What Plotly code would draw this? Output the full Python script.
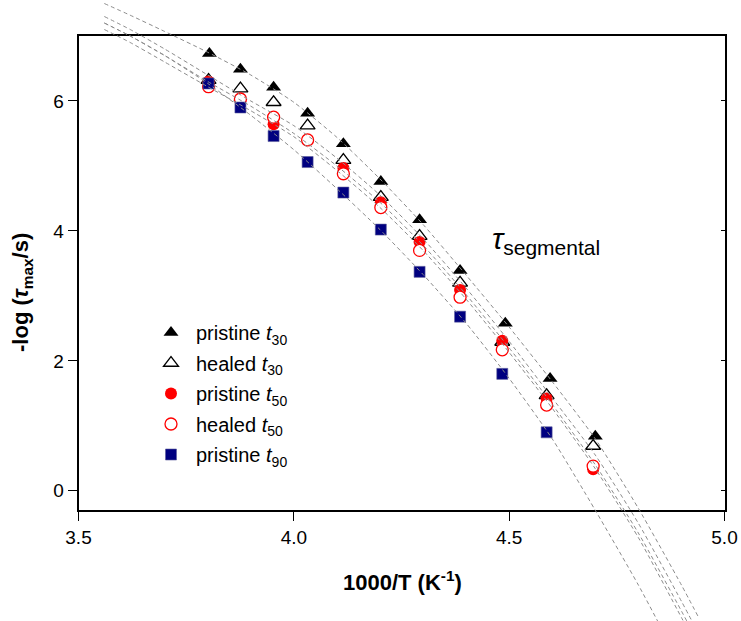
import plotly.graph_objects as go

W, H = 741, 621
# plot area in pixels (left, right, top, bottom)
L, R, T, B = 78.5, 724.5, 36.0, 510.3
XR = [3.5, 5.0]
YR = [-0.3, 7.0]

# ---- data ----
x_all = [3.802, 3.876, 3.953, 4.032, 4.115, 4.202, 4.292, 4.386, 4.484, 4.587, 4.695]
x_p30 = [3.804, 3.876, 3.953, 4.032, 4.115, 4.202, 4.292, 4.386, 4.491, 4.595, 4.70]
y_p30 = [6.73, 6.49, 6.21, 5.81, 5.34, 4.76, 4.17, 3.39, 2.58, 1.73, 0.84]
y_h30 = [6.32, 6.19, 5.98, 5.62, 5.09, 4.52, 3.92, 3.20, 2.29, 1.47, 0.69]
y_p50 = [6.30, 6.02, 5.64, 5.40, 4.97, 4.44, 3.83, 3.09, 2.31, 1.42, 0.33]
y_h50 = [6.22, 6.03, 5.75, 5.40, 4.88, 4.36, 3.70, 2.98, 2.17, 1.32, 0.38]
x_p90 = [3.802, 3.876, 3.953, 4.032, 4.115, 4.202, 4.292, 4.386, 4.484, 4.587]
y_p90 = [6.27, 5.90, 5.46, 5.06, 4.59, 4.02, 3.37, 2.68, 1.80, 0.90]

# fitted dashed curves
fit_x = [3.56, 3.62, 3.70, 3.80, 3.90, 4.00, 4.10, 4.20, 4.30, 4.40, 4.50, 4.60, 4.70, 4.80, 4.90, 4.94]
fit_p30 = [7.50, 7.32, 7.07, 6.75, 6.40, 5.98, 5.44, 4.80, 4.10, 3.32, 2.52, 1.68, 0.80, -0.27, -1.45, -1.95]
fit_h30 = [7.30, 7.10, 6.80, 6.40, 6.00, 5.62, 5.12, 4.55, 3.88, 3.12, 2.30, 1.43, 0.55, -0.50, -1.70, -2.20]
fit_p50 = [7.20, 7.00, 6.70, 6.30, 5.92, 5.50, 5.00, 4.44, 3.78, 3.02, 2.20, 1.33, 0.40, -0.65, -1.85, -2.35]
fit_h50 = [7.10, 6.90, 6.60, 6.22, 5.85, 5.45, 4.93, 4.36, 3.70, 2.95, 2.13, 1.27, 0.34, -0.72, -1.95, -2.45]
fit_p90 = [7.20, 7.00, 6.70, 6.27, 5.78, 5.25, 4.65, 4.02, 3.33, 2.58, 1.73, 0.80, -0.30, -1.45, -2.70, -3.20]

tick_vals_x = [3.5, 4.0, 4.5, 5.0]
tick_vals_y = [0, 2, 4, 6]

FONT = "Arial, Liberation Sans, sans-serif"

fig = go.Figure()

def add_pts(x, y, name, symbol, size, fill, line_color, line_w):
    fig.add_trace(go.Scatter(
        x=x, y=y, mode="markers", name=name, legendgroup=name,
        marker=dict(symbol=symbol, size=size, color=fill,
                    line=dict(color=line_color, width=line_w)),
        xaxis="x", yaxis="y"))

add_pts(x_p30, y_p30, "pristine <i>t</i><sub>30</sub>", "triangle-up", 13, "black", "black", 0)
add_pts(x_all, y_h30, "healed <i>t</i><sub>30</sub>", "triangle-up", 13, "white", "black", 1.3)
add_pts(x_all, y_p50, "pristine <i>t</i><sub>50</sub>", "circle", 12, "#ff0000", "#ff0000", 0)
add_pts(x_all, y_h50, "healed <i>t</i><sub>50</sub>", "circle", 12, "white", "#ff0000", 1.3)
add_pts(x_p90, y_p90, "pristine <i>t</i><sub>90</sub>", "square", 11, "#000080", "#5a5a9a", 0.6)

for fy in [fit_p30, fit_h30, fit_p50, fit_h50, fit_p90]:
    fig.add_trace(go.Scatter(
        x=fit_x, y=fy, mode="lines", showlegend=False, hoverinfo="skip",
        line=dict(color="#8c8c8c", width=1, dash="4px,3px", shape="spline", smoothing=0.6),
        xaxis="x2", yaxis="y2"))

ux = (XR[1] - XR[0]) / (R - L)
uy = (YR[1] - YR[0]) / (B - T)
x2r = [XR[0] - L * ux, XR[1] + (W - R) * ux]
y2r = [YR[0] - (H - B) * uy, YR[1] + T * uy]

axis_common = dict(showline=True, linecolor="black", linewidth=1.5, mirror=True,
                   ticks="outside", ticklen=9, tickwidth=1.3, tickcolor="black",
                   showgrid=False, zeroline=False, automargin=False,
                   tickfont=dict(family=FONT, size=19, color="black"))

fig.update_layout(
    template="none",
    width=W, height=H,
    margin=dict(l=0, r=0, t=0, b=0, autoexpand=False),
    paper_bgcolor="white", plot_bgcolor="rgba(0,0,0,0)",
    xaxis=dict(domain=[L / W, R / W], range=XR, tickvals=tick_vals_x,
               ticktext=[f"{v:.1f}" for v in tick_vals_x], anchor="y", **axis_common),
    yaxis=dict(domain=[(H - B) / H, (H - T) / H], range=YR, tickvals=tick_vals_y,
               anchor="x", **axis_common),
    yaxis3=dict(overlaying="y", side="right", anchor="x", range=YR, tickvals=tick_vals_y,
                ticks="inside", ticklen=4, tickwidth=1.3, tickcolor="black",
                showticklabels=False, showline=False, showgrid=False, zeroline=False,
                automargin=False, fixedrange=True),
    xaxis2=dict(domain=[0, 1], range=x2r, visible=False, anchor="y2", fixedrange=True,
                automargin=False),
    yaxis2=dict(domain=[0, 1], range=y2r, visible=False, anchor="x2", fixedrange=True,
                automargin=False),
    legend=dict(x=146 / W, y=(H - 313) / H, xanchor="left", yanchor="top",
                bgcolor="rgba(0,0,0,0)", font=dict(family=FONT, size=20, color="black"),
                tracegroupgap=1.5, itemwidth=40),
    font=dict(family=FONT, color="black"),
    annotations=[
        dict(text="<i>τ</i><sub>segmental</sub>", x=490 / W, y=(H - 240) / H,
             xref="paper", yref="paper", xanchor="left", yanchor="middle",
             showarrow=False, font=dict(family=FONT, size=30, color="black")),
        dict(text="<b>-log (<i>τ</i><sub>max</sub>/s)</b>", x=22 / W, y=(H - 293) / H,
             xref="paper", yref="paper", xanchor="center", yanchor="middle",
             textangle=-90, showarrow=False, font=dict(family=FONT, size=22, color="black")),
        dict(text="<b>1000/T (K<sup>-1</sup>)</b>", x=402 / W, y=(H - 581) / H,
             xref="paper", yref="paper", xanchor="center", yanchor="middle",
             showarrow=False, font=dict(family=FONT, size=22, color="black")),
    ],
)

# dummy trace on the right-hand tick axis so it is drawn
fig.add_trace(go.Scatter(x=[None], y=[None], xaxis="x", yaxis="y3", showlegend=False,
                         hoverinfo="skip"))

fig.write_html("out.html", config={"displayModeBar": False},
               post_script="document.body.style.margin='0';document.body.style.overflow='hidden';")
